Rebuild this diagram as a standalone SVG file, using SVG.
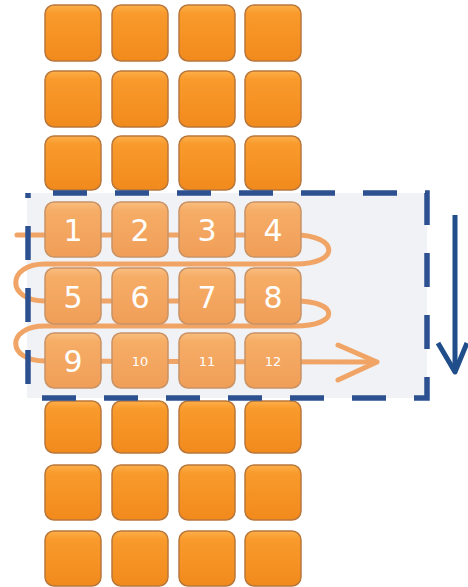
<svg xmlns="http://www.w3.org/2000/svg" width="468" height="587" viewBox="0 0 468 587">
<defs>
<linearGradient id="g" x1="0" y1="0" x2="0" y2="1">
<stop offset="0" stop-color="#fdb04a"/>
<stop offset="0.15" stop-color="#f99a2c"/>
<stop offset="1" stop-color="#f28a1c"/>
</linearGradient>
<linearGradient id="gf" x1="0" y1="0" x2="0" y2="1">
<stop offset="0" stop-color="#f9be80"/>
<stop offset="0.15" stop-color="#f6ad66"/>
<stop offset="1" stop-color="#f09e58"/>
</linearGradient>
<style>
.sq{fill:url(#g);stroke:#b9773a;stroke-width:1.5}
.fd rect{fill:url(#gf);stroke:#c99366}
.big{font-family:"DejaVu Sans",sans-serif;font-size:30px;fill:#fff;text-anchor:middle}
.small{font-family:"DejaVu Sans",sans-serif;font-size:13px;fill:#fff;text-anchor:middle}
.or{fill:none;stroke:#f0a466;stroke-width:5;stroke-linecap:round;stroke-linejoin:round}
</style>
</defs>
<rect width="468" height="587" fill="#fff"/>
<rect id="windowfill" x="27" y="193" width="400" height="205" fill="#f1f2f5"/>
<g id="connectors">
<path class="or" d="M17,235 L295,235 C338,235 342,264 295,264 L45,264 C6,264 6,301 45,301 L295,301 C340,301 340,326 295,326 L45,326 C6,326 6,361 45,361 L375,362"/>
<polyline class="or" points="338,345 377,362 338,380"/>
<line x1="455" y1="215" x2="455" y2="372" stroke="#1f4e8a" stroke-width="5"/>
<polyline points="438,343 455,372 467,343" fill="none" stroke="#1f4e8a" stroke-width="5" stroke-linejoin="round"/>
</g>
<g id="grid">
<g id="r1"><rect class="sq" x="45" y="5" width="56" height="56" rx="9"/><rect class="sq" x="112" y="5" width="56" height="56" rx="9"/><rect class="sq" x="179" y="5" width="56" height="56" rx="9"/><rect class="sq" x="245" y="5" width="56" height="56" rx="9"/></g>
<g id="r2"><rect class="sq" x="45" y="71" width="56" height="56" rx="9"/><rect class="sq" x="112" y="71" width="56" height="56" rx="9"/><rect class="sq" x="179" y="71" width="56" height="56" rx="9"/><rect class="sq" x="245" y="71" width="56" height="56" rx="9"/></g>
<g id="r3"><rect class="sq" x="45" y="136" width="56" height="54" rx="9"/><rect class="sq" x="112" y="136" width="56" height="54" rx="9"/><rect class="sq" x="179" y="136" width="56" height="54" rx="9"/><rect class="sq" x="245" y="136" width="56" height="54" rx="9"/></g>
<g id="n1" class="fd"><rect class="sq" x="45" y="202" width="56" height="55" rx="9"/><text class="big" x="73" y="241">1</text></g>
<g id="n2" class="fd"><rect class="sq" x="112" y="202" width="56" height="55" rx="9"/><text class="big" x="140" y="241">2</text></g>
<g id="n3" class="fd"><rect class="sq" x="179" y="202" width="56" height="55" rx="9"/><text class="big" x="207" y="241">3</text></g>
<g id="n4" class="fd"><rect class="sq" x="245" y="202" width="56" height="55" rx="9"/><text class="big" x="273" y="241">4</text></g>
<g id="n5" class="fd"><rect class="sq" x="45" y="268" width="56" height="56" rx="9"/><text class="big" x="73" y="308">5</text></g>
<g id="n6" class="fd"><rect class="sq" x="112" y="268" width="56" height="56" rx="9"/><text class="big" x="140" y="308">6</text></g>
<g id="n7" class="fd"><rect class="sq" x="179" y="268" width="56" height="56" rx="9"/><text class="big" x="207" y="308">7</text></g>
<g id="n8" class="fd"><rect class="sq" x="245" y="268" width="56" height="56" rx="9"/><text class="big" x="273" y="308">8</text></g>
<g id="n9" class="fd"><rect class="sq" x="45" y="333" width="56" height="55" rx="9"/><text class="big" x="73" y="372">9</text></g>
<g id="n10" class="fd"><rect class="sq" x="112" y="333" width="56" height="55" rx="9"/><text class="small" x="140" y="366">10</text></g>
<g id="n11" class="fd"><rect class="sq" x="179" y="333" width="56" height="55" rx="9"/><text class="small" x="207" y="366">11</text></g>
<g id="n12" class="fd"><rect class="sq" x="245" y="333" width="56" height="55" rx="9"/><text class="small" x="273" y="366">12</text></g>
<g id="r7"><rect class="sq" x="45" y="401" width="56" height="52" rx="9"/><rect class="sq" x="112" y="401" width="56" height="52" rx="9"/><rect class="sq" x="179" y="401" width="56" height="52" rx="9"/><rect class="sq" x="245" y="401" width="56" height="52" rx="9"/></g>
<g id="r8"><rect class="sq" x="45" y="465" width="56" height="55" rx="9"/><rect class="sq" x="112" y="465" width="56" height="55" rx="9"/><rect class="sq" x="179" y="465" width="56" height="55" rx="9"/><rect class="sq" x="245" y="465" width="56" height="55" rx="9"/></g>
<g id="r9"><rect class="sq" x="45" y="531" width="56" height="55" rx="9"/><rect class="sq" x="112" y="531" width="56" height="55" rx="9"/><rect class="sq" x="179" y="531" width="56" height="55" rx="9"/><rect class="sq" x="245" y="531" width="56" height="55" rx="9"/></g>
</g>
<rect id="window" x="28" y="193" width="399" height="205" fill="none" stroke="#2d5190" stroke-width="5.5" stroke-dasharray="34 28" stroke-dashoffset="-25"/>
</svg>
